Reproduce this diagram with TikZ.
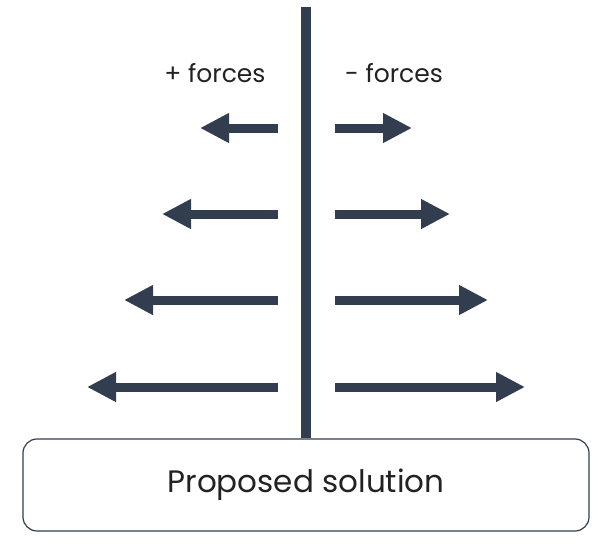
\documentclass[tikz,border=0pt]{standalone}
\usepackage{fontspec}
\setmainfont{Poppins}
\usetikzlibrary{arrows.meta, positioning}
\definecolor{slate}{HTML}{323E4F}
\definecolor{ink}{HTML}{222222}
\tikzstyle{box} = [draw=slate, line width=1.2pt, rounded corners=14pt, minimum width=566pt, minimum height=92pt, text=ink, font=\fontsize{31}{36}\selectfont]
\tikzstyle{label} = [text=ink, font=\fontsize{25}{29}\selectfont]
\tikzstyle{force} = [draw=slate, line width=9pt, -{Triangle[length=29pt,width=28pt]}]
\tikzstyle{stem} = [draw=slate, line width=10pt]

\begin{document}
\begin{tikzpicture}[x=1pt,y=-1pt]
  \useasboundingbox (0,0) rectangle (608,550);
  \node[box] (sol) at (306,485) {Proposed solution};
  \coordinate (top) at (306,7);
  \node[label] (plus) at (215,73) {+ forces};
  \node[label] (minus) at (394,73) {- forces};

  % left side
  \coordinate (L1s) at (278,128);
  \coordinate (L1e) at (200,128);
  \coordinate (L2s) at (278,214);
  \coordinate (L2e) at (162,214);
  \coordinate (L3s) at (278,300);
  \coordinate (L3e) at (124,300);
  \coordinate (L4s) at (278,387);
  \coordinate (L4e) at (87,387);
  % right side
  \coordinate (R1s) at (335,128);
  \coordinate (R1e) at (412,128);
  \coordinate (R2s) at (335,214);
  \coordinate (R2e) at (450,214);
  \coordinate (R3s) at (335,300);
  \coordinate (R3e) at (488,300);
  \coordinate (R4s) at (335,387);
  \coordinate (R4e) at (525,387);

  \draw[stem] (top) -- (sol.north);
  \draw[force] (L1s) -- (L1e);
  \draw[force] (L2s) -- (L2e);
  \draw[force] (L3s) -- (L3e);
  \draw[force] (L4s) -- (L4e);
  \draw[force] (R1s) -- (R1e);
  \draw[force] (R2s) -- (R2e);
  \draw[force] (R3s) -- (R3e);
  \draw[force] (R4s) -- (R4e);
\end{tikzpicture}
\end{document}
